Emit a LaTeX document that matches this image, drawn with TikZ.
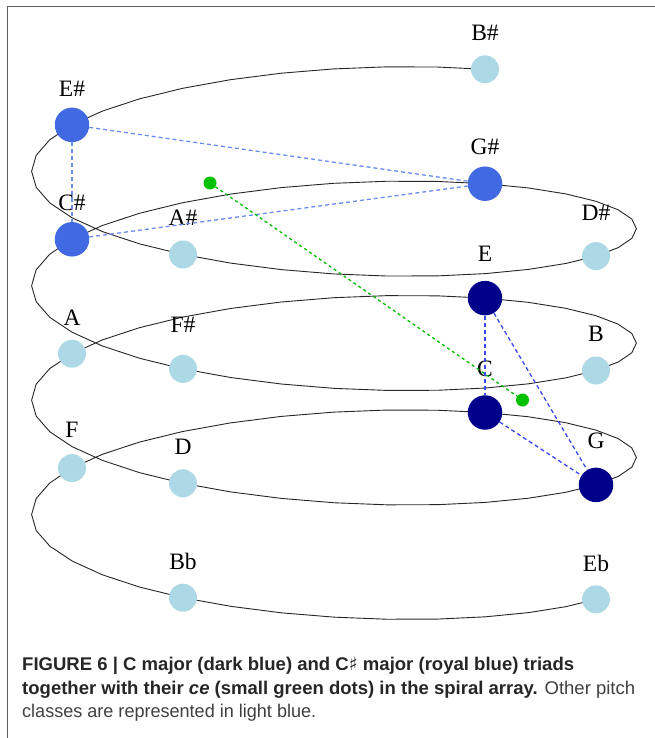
\documentclass[tikz,border=0pt]{standalone}
\usepackage{fontspec}
\usepackage{graphicx}
\setmainfont{Liberation Serif}
\newfontfamily\capfont{Liberation Sans}
\newfontfamily\symfont{DejaVu Sans}
\definecolor{lightbl}{HTML}{ADD8E6}
\definecolor{royal}{HTML}{4169E1}
\definecolor{navyb}{HTML}{00008B}
\definecolor{greendot}{HTML}{00C000}
\definecolor{dashA}{HTML}{6A8DF0}
\definecolor{dashB}{HTML}{3A48F0}
\definecolor{frameg}{HTML}{606060}
\definecolor{captxt}{HTML}{262626}
\definecolor{captxtreg}{HTML}{404040}
\begin{document}
\begin{tikzpicture}[x=1pt,y=-1pt,
  pc/.style={circle, inner sep=0pt, draw=none},
  light/.style={pc, fill=lightbl, minimum size=28pt},
  royalpc/.style={pc, fill=royal, minimum size=34.5pt},
  navypc/.style={pc, fill=navyb, minimum size=34.5pt},
  cedot/.style={pc, fill=greendot, minimum size=13pt},
  lbl/.style={anchor=base, inner sep=0pt, font=\fontsize{23.5}{28}\selectfont},
  spiral/.style={black!85, line width=0.9pt, line join=round},
  tridashA/.style={dashA, line width=1.3pt, dash pattern=on 4pt off 3pt},
  tridashB/.style={dashB, line width=1.3pt, dash pattern=on 4pt off 3pt},
  cedash/.style={greendot, line width=1.3pt, dash pattern=on 3pt off 3pt},
  frameline/.style={frameg, line width=1.4pt},
  captext/.style={anchor=base west, inner sep=0pt, text=captxt, font=\capfont\fontsize{18.4}{22}\selectfont}
]
\useasboundingbox (0,0) rectangle (655,738);
\draw[frameline] (7.5,738) -- (7.5,6.5) -- (655,6.5);
% spiral
\draw[spiral] plot[domain=0:1350, samples=136] ({334+262*cos(\x)-151*sin(\x)}, {562.3+37*cos(\x)+64*sin(\x)-28.6*(\x/90)});
% pitch classes
\node[light] (Eb) at (596,599.3) {};
\node[light] (Bb) at (183,597.7) {};
\node[light] (F) at (72,468.1) {};
\node[navypc] (C) at (485,412.5) {};
\node[navypc] (G) at (596,484.9) {};
\node[light] (D) at (183,483.3) {};
\node[light] (A) at (72,353.7) {};
\node[navypc] (E) at (485,298.1) {};
\node[light] (B) at (596,370.5) {};
\node[light] (Fs) at (183,368.9) {};
\node[royalpc] (Cs) at (72,239.3) {};
\node[royalpc] (Gs) at (485,183.7) {};
\node[light] (Ds) at (596,256.1) {};
\node[light] (As) at (183,254.5) {};
\node[royalpc] (Es) at (72,124.9) {};
\node[light] (Bs) at (485,69.3) {};
% centres of effect
\node[cedot] (ce1) at (210,183) {};
\node[cedot] (ce2) at (522.5,400) {};
% labels
\node[lbl] (lEb) at ([yshift=28pt]Eb.center) {Eb};
\node[lbl] (lBb) at ([yshift=28.2pt]Bb.center) {Bb};
\node[lbl] (lF) at ([yshift=31pt]F.center) {F};
\node[lbl] (lC) at ([yshift=36.2pt]C.center) {C};
\node[lbl] (lG) at ([yshift=36.2pt]G.center) {G};
\node[lbl] (lD) at ([yshift=28.7pt]D.center) {D};
\node[lbl] (lA) at ([yshift=28.7pt]A.center) {A};
\node[lbl] (lE) at ([yshift=36.2pt]E.center) {E};
\node[lbl] (lB) at ([yshift=28.7pt]B.center) {B};
\node[lbl] (lFs) at ([yshift=36pt]Fs.center) {F\#};
\node[lbl] (lCs) at ([yshift=28.7pt]Cs.center) {C\#};
\node[lbl] (lGs) at ([yshift=28.7pt]Gs.center) {G\#};
\node[lbl] (lDs) at ([yshift=36pt]Ds.center) {D\#};
\node[lbl] (lAs) at ([yshift=29pt]As.center) {A\#};
\node[lbl] (lEs) at ([yshift=28.7pt]Es.center) {E\#};
\node[lbl] (lBs) at ([yshift=28.7pt]Bs.center) {B\#};
% triads
\draw[tridashA] (Es) -- (Gs);
\draw[tridashA] (Es) -- (Cs);
\draw[tridashA] (Cs) -- (Gs);
\draw[tridashB] (E) -- (C);
\draw[tridashB] (E) -- (G);
\draw[tridashB] (C) -- (G);
\draw[cedash] (ce1) -- (ce2);
% caption
\node[captext] (cap1) at (22,670.7) {\resizebox{552pt}{\height}{\bfseries FIGURE 6 | C major (dark blue) and C{\symfont ♯} major (royal blue) triads}};
\node[captext] (cap2) at (22,694.2) {\resizebox{613pt}{\height}{\bfseries together with their \textit{ce} (small green dots) in the spiral array.\mdseries\color{captxtreg}{} Other pitch}};
\node[captext, text=captxtreg] (cap3) at (22,717.7) {\resizebox{294pt}{\height}{classes are represented in light blue.}};
\end{tikzpicture}
\end{document}
